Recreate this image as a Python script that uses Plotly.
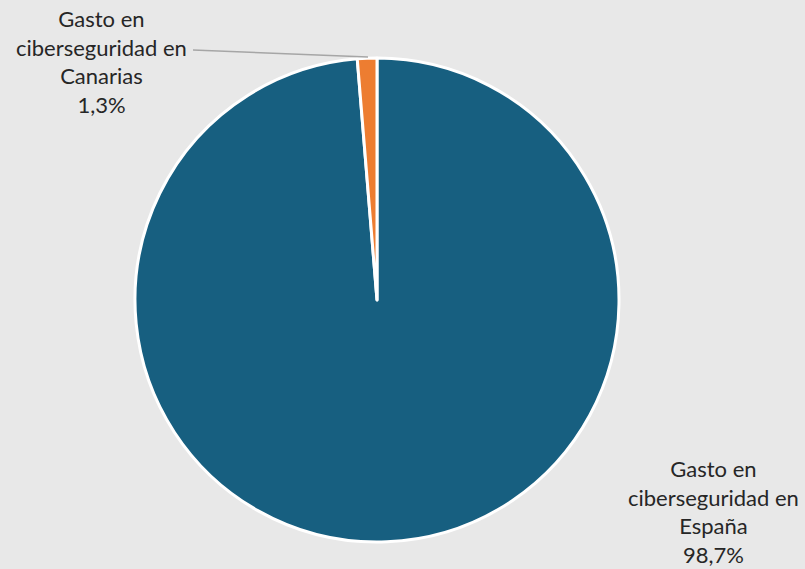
import plotly.graph_objects as go

labels = ["Gasto en ciberseguridad en España", "Gasto en ciberseguridad en Canarias"]
label_lines = [["Gasto en", "ciberseguridad en", "España"], ["Gasto en", "ciberseguridad en", "Canarias"]]
values = [98.7, 1.3]
colors = ["#175f80", "#ed7d31"]

W, H = 805, 569
fig = go.Figure(go.Pie(
    labels=labels, values=values, sort=False, direction="clockwise", rotation=0,
    marker=dict(colors=colors, line=dict(color="#ffffff", width=3)),
    textinfo="none", hoverinfo="label+percent", showlegend=False,
    domain=dict(x=[135 / W, 619 / W], y=[27 / H, 511 / H]),
))

def pct(v):
    return f"{v:.1f}".replace(".", ",") + "%"

font = dict(family="Lato, Calibri, sans-serif", size=22, color="#262626")
# label positions (paper px centres)
positions = [(713, 512), (101, 61)]
for (cx, cy), lines, v in zip(positions, label_lines, values):
    text = "<br>".join(lines + [pct(v)])
    fig.add_annotation(x=cx / W, y=1 - cy / H, xref="paper", yref="paper",
                       text=text, showarrow=False, font=font, align="center",
                       xanchor="center", yanchor="middle")

fig.add_shape(type="line", xref="paper", yref="paper",
              x0=193 / W, y0=1 - 50 / H, x1=368 / W, y1=1 - 57 / H,
              line=dict(color="#a6a6a6", width=1.5))

fig.update_layout(width=W, height=H, margin=dict(l=0, r=0, t=0, b=0),
                  paper_bgcolor="#e8e8e8", plot_bgcolor="#e8e8e8")
fig.write_html("out.html", config={"displayModeBar": False},
               post_script="document.body.style.margin='0';document.body.style.overflow='hidden';")
